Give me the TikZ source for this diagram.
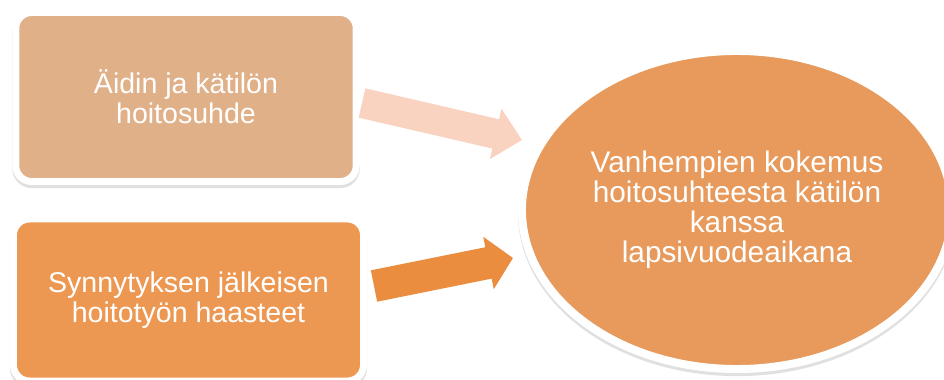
\documentclass[tikz,border=0pt]{standalone}
\usepackage{fontspec}
\setmainfont{Liberation Sans}
\usetikzlibrary{positioning,shapes.geometric,arrows.meta}
\definecolor{boxtan}{RGB}{224,176,137}
\definecolor{boxorange}{RGB}{237,152,82}
\definecolor{ovalorange}{RGB}{231,154,91}
\definecolor{arrowpeach}{RGB}{249,211,191}
\definecolor{arroworange}{RGB}{235,141,63}

\begin{document}
\begin{tikzpicture}[x=0.025cm,y=-0.025cm]
\tikzset{softshadow/.style={preaction={draw=black,fill=black,opacity=0.12,transform canvas={yshift=-2.2pt}}}}
\tikzset{card/.style={draw=white,line width=0.175cm,rounded corners=0.4cm,align=center,text=white,
  font=\fontsize{20.3}{21.3}\selectfont,softshadow}}
\tikzset{oval/.style={ellipse,draw=white,line width=0.2cm,inner sep=0pt,align=center,text=white,
  font=\fontsize{21.2}{21.3}\selectfont,softshadow}}
\tikzset{bigarrow/.style={line width=0.75cm,-{Triangle[length=0.675cm,width=1.25cm]}}}
\useasboundingbox (0,0) rectangle (944,380);
\fill[white] (0,0) rectangle (944,380);
% boxes and ellipse
\node[card,fill=boxtan,minimum width=8.51cm,minimum height=4.225cm] (relation) at (186,97) {Äidin ja kätilön\\hoitosuhde};
\node[card,fill=boxorange,minimum width=8.75cm,minimum height=4.05cm] (challenges) at (188.5,300) {Synnytyksen jälkeisen\\hoitotyön haasteet};
\node[oval,fill=ovalorange,minimum width=10.75cm,minimum height=7.95cm] (experience) at (737,210) {Vanhempien kokemus\\hoitosuhteesta kätilön\\kanssa\\lapsivuodeaikana};
% arrows
\coordinate (relTail) at (362,103);
\coordinate (relTip) at (522,140);
\coordinate (chaTail) at (374,286);
\coordinate (chaTip) at (513,258);
\draw[bigarrow,draw=arrowpeach,fill=arrowpeach] (relTail) -- (relTip);
\draw[bigarrow,draw=arroworange,fill=arroworange,line width=0.8cm,-{Triangle[length=0.625cm,width=1.3cm]}] (chaTail) -- (chaTip);
\end{tikzpicture}
\end{document}
